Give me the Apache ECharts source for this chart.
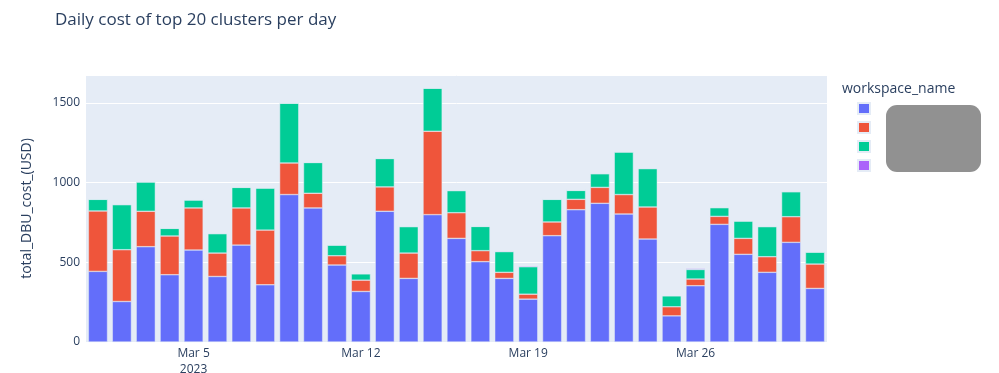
<!DOCTYPE html>
<html>
<head>
<meta charset="utf-8">
<script src="https://cdn.jsdelivr.net/npm/echarts@6/dist/echarts.min.js"></script>
<style>
html,body{margin:0;padding:0;background:#fff;}
#chart{width:999px;height:373px;}
</style>
</head>
<body>
<div id="chart"></div>
<script>
const categories = ['2023-03-01','2023-03-02','2023-03-03','2023-03-04','2023-03-05','2023-03-06','2023-03-07','2023-03-08','2023-03-09','2023-03-10','2023-03-11','2023-03-12','2023-03-13','2023-03-14','2023-03-15','2023-03-16','2023-03-17','2023-03-18','2023-03-19','2023-03-20','2023-03-21','2023-03-22','2023-03-23','2023-03-24','2023-03-25','2023-03-26','2023-03-27','2023-03-28','2023-03-29','2023-03-30','2023-03-31'];
const seriesNames = ['workspace_1','workspace_2','workspace_3','workspace_4'];
const workspace1 = [443,254,598,422,577,411,608,359,925,841,483,317,820,399,799,650,504,399,269,667,830,870,803,646,164,353,738,550,437,625,336];
const workspace2 = [379,325,222,243,264,147,233,343,198,92,58,71,153,159,523,161,69,38,31,86,65,100,122,201,57,42,50,100,98,161,153];
const workspace3 = [73,283,184,48,50,122,129,264,375,193,67,40,178,166,270,139,152,130,172,142,56,86,267,241,69,60,55,109,189,157,75];
const workspace4 = [0,0,0,0,0,0,0,0,0,0,0,0,0,0,0,0,0,4,6,0,0,0,0,0,0,6,0,0,0,0,0];
const yTicks = [0,500,1000,1500];
const titleText = 'Daily cost of top 20 clusters per day';
const legendTitle = 'workspace_name';
const yAxisTitle = 'total_DBU_cost_(USD)';

const colors = ['#636efa','#EF553B','#00cc96','#ab63fa'];
const font = '"Open Sans", verdana, arial, sans-serif';
const months = ['Jan','Feb','Mar','Apr','May','Jun','Jul','Aug','Sep','Oct','Nov','Dec'];
const labelIdx = [4,11,18,25];

const chart = echarts.init(document.getElementById('chart'), null, {renderer:'canvas'});
const allData = [workspace1, workspace2, workspace3, workspace4];

const option = {
  animation: false,
  color: colors,
  textStyle: {fontFamily: font, color: '#2a3f5f'},
  title: [
    {text: titleText, left: 50, top: 7, textStyle: {fontFamily: font, fontSize: 17, fontWeight: 'normal', color: '#2a3f5f'}},
    {text: legendTitle, left: 837, top: 77, textStyle: {fontFamily: font, fontSize: 14, fontWeight: 'normal', color: '#2a3f5f'}}
  ],
  legend: {
    orient: 'vertical', left: 852, top: 97, itemWidth: 12, itemHeight: 11, itemGap: 6,
    icon: 'rect', data: seriesNames,
    textStyle: {fontFamily: font, fontSize: 8, lineHeight: 9, color: '#2a3f5f', padding: [2,0,0,32]}
  },
  grid: {left: 86, right: 172, top: 75, bottom: 31, show: true, backgroundColor: '#E5ECF6', borderWidth: 0, outerBoundsMode: 'none', containLabel: false},
  xAxis: {
    type: 'category', data: categories,
    axisLine: {show: false}, axisTick: {show: false},
    axisLabel: {
      interval: function(i){ return labelIdx.indexOf(i) >= 0; },
      margin: 4, fontSize: 12, color: '#2a3f5f', fontFamily: font, lineHeight: 16,
      formatter: function(v, i){
        const d = new Date(v + 'T00:00:00');
        const s = months[d.getMonth()] + ' ' + d.getDate();
        return i === labelIdx[0] ? s + '\n' + d.getFullYear() : s;
      }
    },
    splitLine: {show: false}
  },
  yAxis: {
    type: 'value', min: 0, max: 1675, interval: 500,
    name: yAxisTitle, nameLocation: 'middle', nameGap: 52,
    nameTextStyle: {fontFamily: font, fontSize: 14, color: '#2a3f5f'},
    axisLine: {show: false}, axisTick: {show: false},
    axisLabel: {margin: 6, fontSize: 12, color: '#2a3f5f', fontFamily: font, showMaxLabel: false,
      formatter: function(v){ return yTicks.indexOf(v) >= 0 ? String(v) : ''; }},
    splitLine: {show: true, lineStyle: {color: '#ffffff', width: 1}}
  },
  series: seriesNames.map(function(n, k){
    return {
      name: n, type: 'bar', stack: 'total', data: allData[k],
      barCategoryGap: '20%',
      itemStyle: {color: colors[k], borderColor: '#E5ECF6', borderWidth: 0.5}
    };
  }),
  graphic: [
    {type: 'rect', left: 886, top: 105, shape: {width: 95, height: 67, r: 11}, style: {fill: '#919191'}, z: 100}
  ]
};
chart.setOption(option);
</script>
</body>
</html>
